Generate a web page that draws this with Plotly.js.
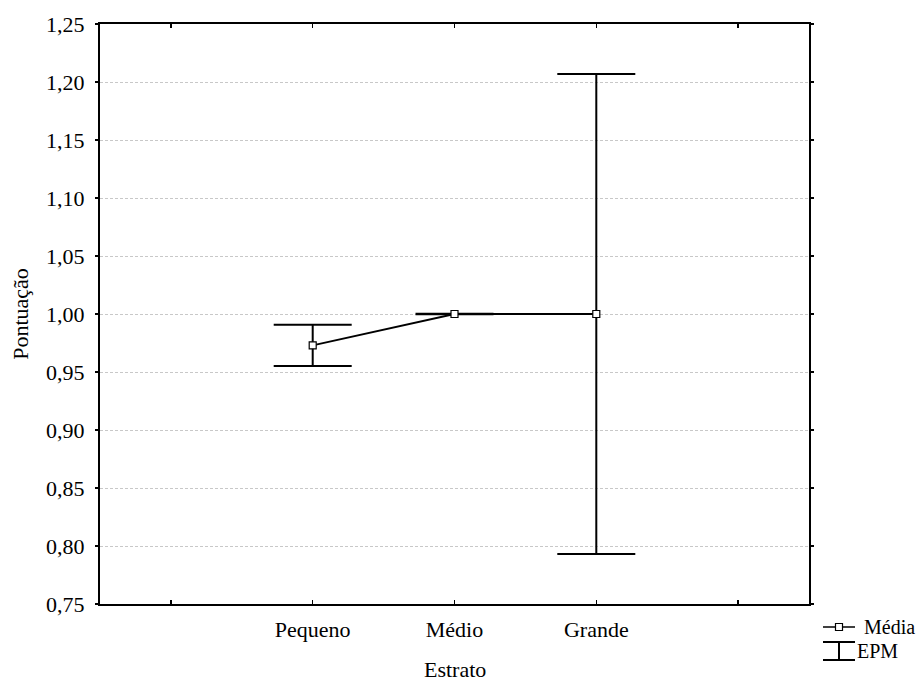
<!DOCTYPE html>
<html>
<head>
<meta charset="utf-8">
<script src="https://cdn.plot.ly/plotly-3.0.1.min.js"></script>
<style>html,body{margin:0;padding:0;background:#fff}#chart{width:918px;height:682px}</style>
</head>
<body>
<div id="chart"></div>
<script>
const categories = ['Pequeno', 'Médio', 'Grande'];
const means = [0.973, 1.000, 1.000];
const sem = [0.0178, 0.0003, 0.207];
const yTicks = [0.75, 0.80, 0.85, 0.90, 0.95, 1.00, 1.05, 1.10, 1.15, 1.20, 1.25];
const xTitle = 'Estrato';
const yTitle = 'Pontuação';

const xPos = categories.map((c, i) => i + 1);
const fam = 'Liberation Serif';
const font = {family: fam, size: 22, color: '#000'};

const trace = {
  x: xPos, y: means, type: 'scatter', mode: 'lines+markers',
  line: {color: '#000', width: 1.8},
  marker: {symbol: 'square', size: 7, color: '#fff', line: {color: '#000', width: 1.2}},
  error_y: {type: 'data', array: sem, visible: true, color: '#000', thickness: 2, width: 39},
  showlegend: false, hoverinfo: 'skip'
};

const L = 100, R = 809, T = 24, B = 604;
const px = v => (v - L) / (R - L);
const py = v => (B - v) / (B - T);

const shapes = [
  {type: 'line', xref: 'paper', yref: 'paper', x0: px(823), x1: px(855), y0: py(627), y1: py(627), line: {color: '#000', width: 1.5}},
  {type: 'rect', xref: 'paper', yref: 'paper', x0: px(835.5), x1: px(842.5), y0: py(623.5), y1: py(630.5), fillcolor: '#fff', line: {color: '#000', width: 1.2}},
  {type: 'line', xref: 'paper', yref: 'paper', x0: px(823), x1: px(855), y0: py(642), y1: py(642), line: {color: '#000', width: 2}},
  {type: 'line', xref: 'paper', yref: 'paper', x0: px(839), x1: px(839), y0: py(642), y1: py(660), line: {color: '#000', width: 2}},
  {type: 'line', xref: 'paper', yref: 'paper', x0: px(823), x1: px(855), y0: py(660), y1: py(660), line: {color: '#000', width: 2}}
];

const annotations = [
  {xref: 'paper', yref: 'paper', x: px(864), y: py(627), text: 'Média', showarrow: false, xanchor: 'left', yanchor: 'middle', xshift: -2, font: {family: fam, size: 20, color: '#000'}},
  {xref: 'paper', yref: 'paper', x: px(857), y: py(651), text: 'EPM', showarrow: false, xanchor: 'left', yanchor: 'middle', xshift: -2, font: {family: fam, size: 20, color: '#000'}},
  {xref: 'paper', yref: 'paper', x: px(455), y: py(669), text: xTitle, showarrow: false, xanchor: 'center', yanchor: 'middle', font: font}
];

const layout = {
  width: 918, height: 682,
  margin: {l: 100, r: 109, t: 24, b: 78},
  paper_bgcolor: '#fff', plot_bgcolor: '#fff',
  font: font,
  separators: ',.',
  showlegend: false,
  xaxis: {
    range: [-0.5, 4.5],
    tickvals: [0, 1, 2, 3, 4],
    ticktext: ['', ...categories, ''],
    ticks: 'inside', ticklen: 4, tickwidth: 1.5, tickcolor: '#000',
    ticklabelstandoff: 5,
    showline: true, linecolor: '#000', linewidth: 2, mirror: 'ticks',
    showgrid: false, zeroline: false,
    tickfont: font
  },
  yaxis: {
    range: [0.75, 1.25],
    tickvals: yTicks,
    tickformat: '.2f',
    ticks: 'outside', ticklen: 3, tickwidth: 1.5, tickcolor: '#000',
    ticklabelstandoff: 6,
    showline: true, linecolor: '#000', linewidth: 2, mirror: 'ticks',
    showgrid: true, gridcolor: '#c8c8c8', griddash: '3px,2px', gridwidth: 1,
    zeroline: false,
    tickfont: font,
    title: {text: yTitle, font: font, standoff: 11}
  },
  shapes: shapes,
  annotations: annotations
};

Plotly.newPlot('chart', [trace], layout, {displayModeBar: false, staticPlot: true});
</script>
</body>
</html>
